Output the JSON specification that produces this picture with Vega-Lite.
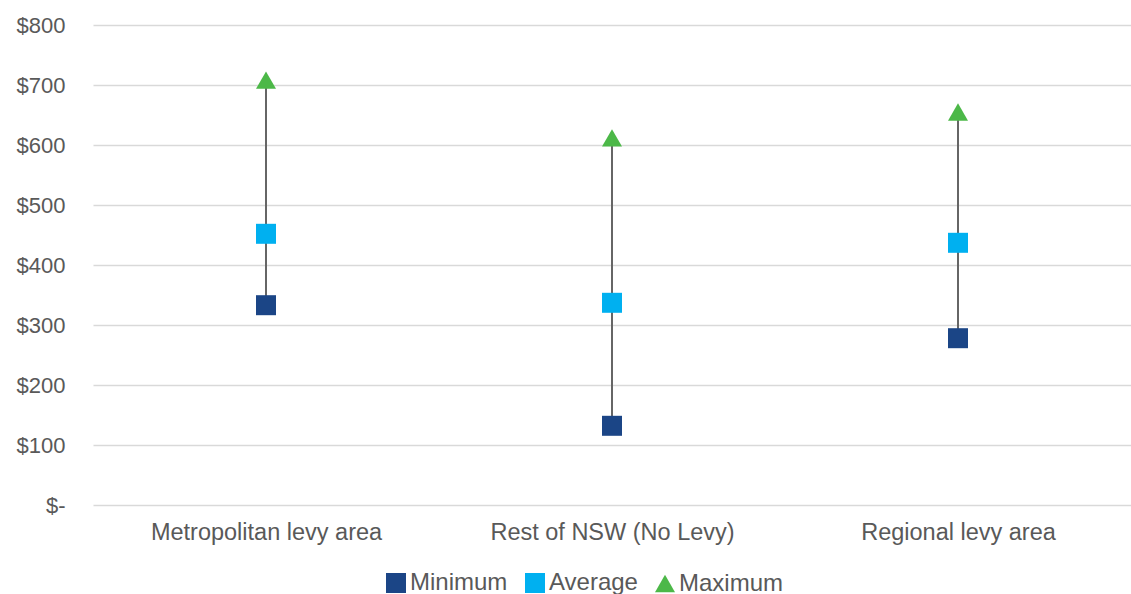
{
  "$schema": "https://vega.github.io/schema/vega-lite/v6.json",
  "autosize": "none",
  "width": 1038,
  "height": 480,
  "padding": {"left": 93, "top": 25, "right": 0, "bottom": 89},
  "background": "white",
  "config": {
    "view": {"stroke": null},
    "font": "Liberation Sans",
    "axis": {"labelFont": "Liberation Sans", "labelColor": "#595959", "labelFontSize": 22, "labelLimit": 0, "domain": false, "ticks": false, "title": null},
    "legend": {"labelFont": "Liberation Sans", "labelColor": "#595959", "labelFontSize": 24, "labelLimit": 0}
  },
  "data": {
    "values": [
      {"area": "Metropolitan levy area", "Minimum": 333, "Average": 452, "Maximum": 708},
      {"area": "Rest of NSW (No Levy)", "Minimum": 132, "Average": 337, "Maximum": 612},
      {"area": "Regional levy area", "Minimum": 278, "Average": 437, "Maximum": 655}
    ]
  },
  "encoding": {
    "x": {
      "field": "area",
      "type": "nominal",
      "sort": null,
      "scale": {"type": "point", "padding": 0.5},
      "axis": {"labelAngle": 0, "labelPadding": 15, "labelFontSize": 23.5, "grid": false}
    }
  },
  "layer": [
    {
      "mark": {"type": "rule", "color": "#666666", "strokeWidth": 2},
      "encoding": {
        "y": {"field": "Minimum", "type": "quantitative", "scale": {"domain": [0, 800], "nice": false},
              "axis": {"values": [0, 100, 200, 300, 400, 500, 600, 700, 800], "labelPadding": 28, "labelFontSize": 22, "gridColor": "#d9d9d9", "gridWidth": 1.5,
                       "labelExpr": "datum.value == 0 ? '$-' : '$' + datum.value"}},
        "y2": {"field": "Maximum"}
      }
    },
    {
      "transform": [{"fold": ["Minimum", "Average", "Maximum"], "as": ["series", "value"]}],
      "mark": {"type": "point", "filled": true, "opacity": 1},
      "encoding": {
        "y": {"field": "value", "type": "quantitative"},
        "size": {
          "field": "series", "type": "nominal",
          "scale": {"domain": ["Minimum", "Average", "Maximum"], "range": [400, 400, 700]},
          "legend": null
        },
        "color": {
          "field": "series", "type": "nominal",
          "scale": {"domain": ["Minimum", "Average", "Maximum"], "range": ["#1B4586", "#00B0F0", "#4CB848"]},
          "legend": {"title": null, "orient": "none", "direction": "horizontal", "legendX": 291, "legendY": 546, "symbolSize": 160, "columnPadding": 14, "labelOffset": 2, "padding": 0, "symbolOpacity": 1}
        },
        "shape": {
          "field": "series", "type": "nominal",
          "scale": {"domain": ["Minimum", "Average", "Maximum"], "range": ["square", "square", "triangle-up"]},
          "legend": {"title": null, "orient": "none", "direction": "horizontal", "legendX": 291, "legendY": 546, "symbolSize": 160, "columnPadding": 14, "labelOffset": 2, "padding": 0, "symbolOpacity": 1}
        }
      }
    }
  ]
}
